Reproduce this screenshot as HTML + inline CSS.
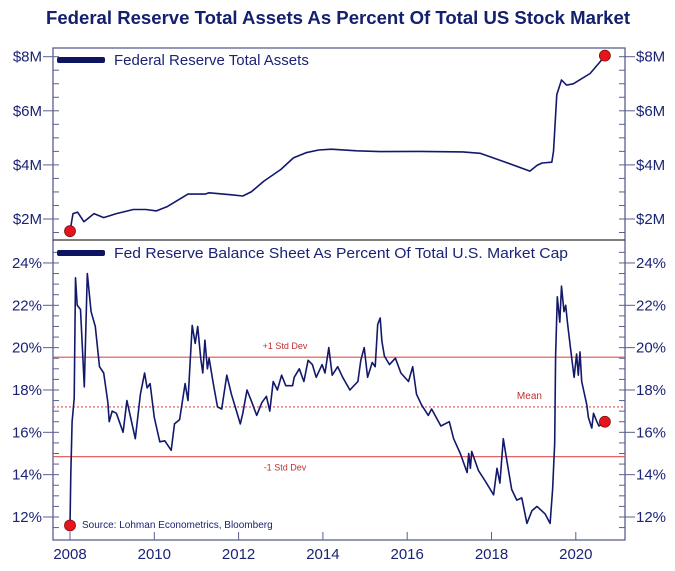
<!DOCTYPE html>
<html><head><meta charset="utf-8"><style>
html,body{margin:0;padding:0;background:#fff;}
svg{display:block;font-family:"Liberation Sans",Arial,sans-serif;}
</style></head><body>
<svg id="chart" width="675" height="571" viewBox="0 0 675 571" xmlns="http://www.w3.org/2000/svg">
<text x="46" y="24" font-size="18" font-weight="bold" fill="#14206e" textLength="584" lengthAdjust="spacingAndGlyphs">Federal Reserve Total Assets As Percent Of Total US Stock Market</text>
<g id="axes"></g>
<g id="series"></g>
</svg>
<script>
// Top panel: Fed total assets ($M in millions-style label units)
const assetYears = [2008.0,2008.07,2008.18,2008.33,2008.57,2008.8,2009.1,2009.5,2009.8,2010.05,2010.3,2010.8,2011.2,2011.3,2011.8,2012.1,2012.3,2012.6,2013.0,2013.3,2013.6,2013.9,2014.2,2014.8,2015.35,2016.3,2017.32,2017.73,2018.3,2018.91,2019.08,2019.2,2019.43,2019.47,2019.55,2019.66,2019.78,2019.94,2020.1,2020.34,2020.57,2020.69];
const assetValues = [1.55,2.2,2.25,1.9,2.2,2.05,2.2,2.35,2.35,2.3,2.45,2.92,2.92,2.97,2.9,2.85,3.0,3.4,3.83,4.26,4.45,4.55,4.58,4.52,4.49,4.5,4.48,4.43,4.12,3.77,3.98,4.07,4.1,4.5,6.6,7.14,6.95,7.0,7.15,7.38,7.8,8.04];
// Bottom panel: balance sheet as % of market cap
const pctYears = [2008.0,2008.02,2008.05,2008.1,2008.13,2008.17,2008.25,2008.34,2008.41,2008.5,2008.6,2008.7,2008.8,2008.9,2008.93,2009.0,2009.1,2009.26,2009.35,2009.55,2009.67,2009.77,2009.83,2009.9,2010.0,2010.13,2010.25,2010.4,2010.48,2010.6,2010.73,2010.8,2010.9,2010.97,2011.03,2011.1,2011.15,2011.2,2011.26,2011.3,2011.4,2011.5,2011.6,2011.72,2011.83,2011.95,2012.04,2012.1,2012.2,2012.3,2012.43,2012.55,2012.66,2012.74,2012.82,2012.92,2013.02,2013.12,2013.28,2013.32,2013.44,2013.55,2013.65,2013.75,2013.84,2013.98,2014.05,2014.14,2014.22,2014.35,2014.47,2014.64,2014.83,2014.9,2014.98,2015.06,2015.17,2015.24,2015.3,2015.36,2015.4,2015.46,2015.58,2015.72,2015.85,2016.03,2016.13,2016.22,2016.34,2016.5,2016.58,2016.8,2017.0,2017.1,2017.26,2017.42,2017.46,2017.5,2017.53,2017.69,2017.85,2018.05,2018.13,2018.2,2018.28,2018.36,2018.48,2018.6,2018.72,2018.84,2018.96,2019.08,2019.27,2019.39,2019.45,2019.5,2019.52,2019.56,2019.62,2019.66,2019.72,2019.76,2019.8,2019.88,2019.96,2020.02,2020.06,2020.1,2020.14,2020.26,2020.3,2020.38,2020.42,2020.5,2020.55,2020.69];
const pctValues = [11.6,14.0,16.5,17.6,23.3,22.0,21.8,18.15,23.5,21.7,21.0,19.1,18.8,17.4,16.5,17.0,16.9,16.0,17.5,15.7,17.8,18.8,18.1,18.3,16.7,15.55,15.6,15.15,16.4,16.6,18.3,17.5,21.05,20.2,21.0,19.5,18.8,20.35,19.0,19.5,18.3,17.2,17.1,18.7,17.8,17.0,16.4,16.9,18.0,17.5,16.8,17.4,17.7,17.0,18.4,18.0,18.7,18.2,18.2,18.6,19.0,18.4,19.4,19.2,18.6,19.2,18.8,20.0,18.7,19.1,18.6,18.0,18.4,19.4,20.0,18.6,19.3,19.1,21.1,21.4,20.3,19.6,19.2,19.5,18.8,18.4,19.1,17.8,17.3,16.8,17.1,16.3,16.5,15.7,15.0,14.1,15.0,14.3,15.1,14.2,13.7,13.05,14.3,13.6,15.7,14.7,13.3,12.8,12.9,11.7,12.3,12.5,12.15,11.7,13.3,15.5,19.6,22.4,21.2,22.9,21.7,22.0,21.2,19.9,18.6,19.7,18.7,19.8,18.4,17.3,16.7,16.2,16.9,16.5,16.3,16.5];
const assetTicks = [2,4,6,8];
const assetTickLabels = ["$2M","$4M","$6M","$8M"];
const pctTicks = [12,14,16,18,20,22,24];
const pctTickLabels = ["12%","14%","16%","18%","20%","22%","24%"];
const yearTicks = [2008,2010,2012,2014,2016,2018,2020];
const meanValue = 17.2, stdHigh = 19.55, stdLow = 14.85;

const NS="http://www.w3.org/2000/svg";
const L=53,R=625,T=48,MID=240,B=540;
const xs=y=>70+(y-2008)*42.15;
const ya=v=>219-(v-2)*27.05;
const yp=p=>517-(p-12)*21.17;
const NAVY="#12196a", AX="#5a5f8f", RED="#e0504e";
function mk(tag,attrs,parent,txt){const e=document.createElementNS(NS,tag);for(const k in attrs)e.setAttribute(k,attrs[k]);if(txt!==undefined)e.textContent=txt;parent.appendChild(e);return e;}
const ax=document.getElementById('axes'), se=document.getElementById('series');

let frame=mk('rect',{x:L,y:T,width:R-L,height:B-T,fill:'none',stroke:AX,'stroke-width':1.3},ax);


let div=mk('line',{x1:L,x2:R,y1:MID,y2:MID,stroke:'#333',"stroke-width":1.3},ax);



// top minor ticks
for(let v=1.5;v<=8.01;v+=0.5){const y=ya(v);if(y<T||y>MID)continue;
 mk('line',{x1:L,x2:L+6,y1:y,y2:y,stroke:AX},ax);mk('line',{x1:R-6,x2:R,y1:y,y2:y,stroke:AX},ax);}
assetTicks.forEach((v,i)=>{const y=ya(v);
 mk('line',{x1:L-10,x2:L,y1:y,y2:y,stroke:AX},ax);mk('line',{x1:R,x2:R+10,y1:y,y2:y,stroke:AX},ax);
 let t=mk('text',{x:L-11,y:y+5,'text-anchor':'end','font-size':15,fill:'#1a2375'},ax,assetTickLabels[i]);
 
 
 let t2=mk('text',{x:R+11,y:y+5,'font-size':15,fill:'#1a2375'},ax,assetTickLabels[i]);
 
 });
// bottom minor ticks
for(let p=11.5;p<=24.51;p+=0.5){const y=yp(p);if(y<MID||y>B)continue;
 mk('line',{x1:L,x2:L+6,y1:y,y2:y,stroke:AX},ax);mk('line',{x1:R-6,x2:R,y1:y,y2:y,stroke:AX},ax);}
pctTicks.forEach((v,i)=>{const y=yp(v);
 mk('line',{x1:L-10,x2:L,y1:y,y2:y,stroke:AX},ax);mk('line',{x1:R,x2:R+10,y1:y,y2:y,stroke:AX},ax);
 let t=mk('text',{x:L-11,y:y+5,'text-anchor':'end','font-size':15,fill:'#1a2375'},ax,pctTickLabels[i]);
 
 
 let t2=mk('text',{x:R+11,y:y+5,'font-size':15,fill:'#1a2375'},ax,pctTickLabels[i]);
 
 });
yearTicks.forEach(yr=>{const x=xs(yr);
 mk('line',{x1:x,x2:x,y1:B-8,y2:B,stroke:AX},ax);
 let t=mk('text',{x:x,y:B+19,'text-anchor':'middle','font-size':15,fill:'#1a2375'},ax,String(yr));
 
 });

// reference lines
[[stdHigh,'std-high-line'],[stdLow,'std-low-line']].forEach(([v,n])=>{let l=mk('line',{x1:L,x2:R,y1:yp(v),y2:yp(v),stroke:RED,'stroke-width':1.2},se);
 
 });
let ml=mk('line',{x1:L,x2:R,y1:yp(meanValue),y2:yp(meanValue),stroke:RED,'stroke-width':1.2,'stroke-dasharray':'2,2'},se);


let l1=mk('text',{x:xs(2013.1),y:yp(stdHigh)-8,'text-anchor':'middle','font-size':9,fill:'#c0302e'},se,'+1 Std Dev');


let l2=mk('text',{x:xs(2013.1),y:yp(stdLow)+14,'text-anchor':'middle','font-size':9,fill:'#c0302e'},se,'-1 Std Dev');


let l3=mk('text',{x:xs(2018.9),y:yp(meanValue)-8,'text-anchor':'middle','font-size':10,fill:'#c0302e'},se,'Mean');



// series
let pa=mk('polyline',{points:assetYears.map((y,i)=>xs(y).toFixed(1)+','+ya(assetValues[i]).toFixed(1)).join(' '),fill:'none',stroke:NAVY,'stroke-width':1.6,'stroke-linejoin':'round'},se);


let pp=mk('polyline',{points:pctYears.map((y,i)=>xs(y).toFixed(1)+','+yp(pctValues[i]).toFixed(1)).join(' '),fill:'none',stroke:NAVY,'stroke-width':1.6,'stroke-linejoin':'round'},se);



// dots
const dots=[[xs(assetYears[0]),ya(assetValues[0]),'asset-start-dot'],[xs(assetYears[assetYears.length-1]),ya(assetValues[assetValues.length-1]),'asset-end-dot'],[xs(pctYears[0]),yp(pctValues[0]),'pct-start-dot'],[xs(pctYears[pctYears.length-1]),yp(pctValues[pctValues.length-1]),'pct-end-dot']];
dots.forEach(([x,y,n])=>{let c=mk('circle',{cx:x,cy:y,r:5.5,fill:'#e8141c',stroke:'#7a1010','stroke-width':0.8},se);
 
 });

// legends
let lb1=mk('rect',{x:57,y:57,width:48,height:6,rx:2,fill:'#0d1460'},se);


let lt1=mk('text',{x:114,y:65,'font-size':15,fill:'#1a2375'},se,'Federal Reserve Total Assets');


let lb2=mk('rect',{x:57,y:250,width:48,height:6,rx:2,fill:'#0d1460'},se);


let lt2=mk('text',{x:114,y:258,'font-size':15,fill:'#1a2375',textLength:454,lengthAdjust:'spacingAndGlyphs'},se,'Fed Reserve Balance Sheet As Percent Of Total U.S. Market Cap');


let src=mk('text',{x:82,y:528,'font-size':10,fill:'#1a2375'},se,'Source: Lohman Econometrics, Bloomberg');


</script>
</body></html>
